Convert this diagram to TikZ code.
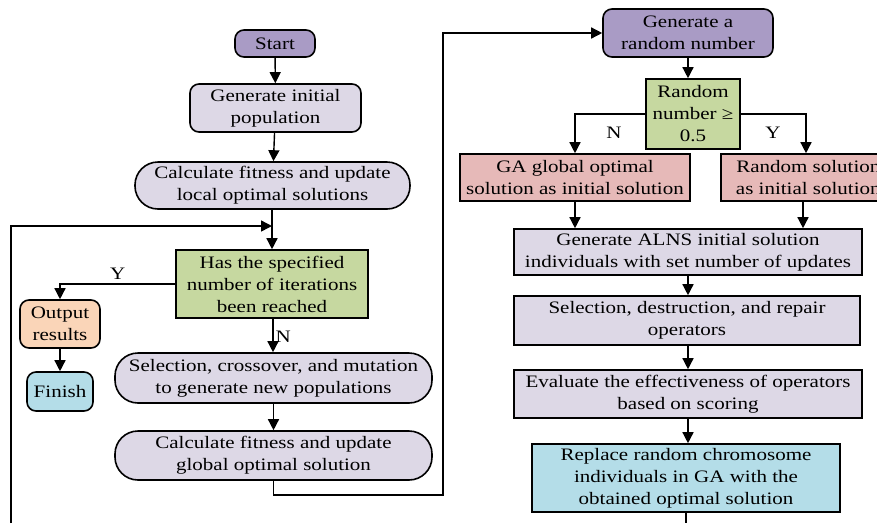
\documentclass[tikz,border=0pt]{standalone}
\usepackage{fontspec}
\setmainfont{Liberation Serif}[FakeStretch=1.2]
\usetikzlibrary{arrows.meta}
\definecolor{cpurple}{HTML}{A99BC5}
\definecolor{clav}{HTML}{DDD8E6}
\definecolor{cgreen}{HTML}{C6D8A0}
\definecolor{corange}{HTML}{FAD5B8}
\definecolor{cblue}{HTML}{B4DDE8}
\definecolor{cpink}{HTML}{E6B9B8}
\newcommand{\flowfont}{\fontsize{17.5}{22}\selectfont}
\tikzset{
  base/.style={draw, line width=1.6pt, font=\flowfont, align=center, inner sep=0pt},
  rbox/.style={base, rounded corners=9pt},
  stad/.style={base, rounded corners=23pt},
  sbox/.style={base},
  arr/.style={-{Triangle[length=11pt,width=11pt]}, line width=1.4pt},
  ln/.style={line width=1.4pt},
  lab/.style={font=\flowfont, inner sep=0pt}
}
\begin{document}
\begin{tikzpicture}[x=1pt,y=-1pt]
\useasboundingbox (0,0) rectangle (877,523);
\clip (0,0) rectangle (877,523);

% genetic algorithm column
\node[rbox, fill=cpurple, minimum width=80pt, minimum height=27pt] (start) at (275,43.5) {Start};
\node[rbox, fill=clav, minimum width=171pt, minimum height=48pt] (init) at (275.5,108) {Generate initial\\population};
\node[stad, fill=clav, minimum width=275pt, minimum height=47pt] (local) at (272.5,185.5) {Calculate fitness and update\\local optimal solutions};
\node[sbox, fill=cgreen, minimum width=192pt, minimum height=68pt] (iter) at (272,284) {Has the specified\\number of iterations\\been reached};
\node[rbox, fill=corange, minimum width=80pt, minimum height=48pt] (out) at (60,324) {Output\\results};
\node[rbox, fill=cblue, minimum width=66pt, minimum height=39pt] (fin) at (60,391.5) {Finish};
\node[stad, fill=clav, minimum width=317pt, minimum height=50pt] (sel) at (273.5,378) {Selection, crossover, and mutation\\to generate new populations};
\node[stad, fill=clav, minimum width=317pt, minimum height=49pt] (glob) at (273.5,455.5) {Calculate fitness and update\\global optimal solution};

% ALNS column
\node[rbox, fill=cpurple, minimum width=170pt, minimum height=48pt] (rand) at (688,33) {Generate a\\random number};
\node[sbox, fill=cgreen, minimum width=94pt, minimum height=70pt] (cmp) at (693,114) {Random\\number ≥\\0.5};
\node[sbox, fill=cpink, minimum width=230pt, minimum height=47pt] (gasol) at (575,177.5) {GA global optimal\\solution as initial solution};
\node[sbox, fill=cpink, minimum width=175pt, minimum height=47pt, anchor=west] (rsol) at (720,177.5) {Random solution\\as initial solution};
\node[sbox, fill=clav, minimum width=348pt, minimum height=46pt] (alns) at (688,252) {Generate ALNS initial solution\\individuals with set number of updates};
\node[sbox, fill=clav, minimum width=346pt, minimum height=49pt] (ops) at (687,320.5) {Selection, destruction, and repair\\operators};
\node[sbox, fill=clav, minimum width=348pt, minimum height=48pt] (eval) at (688,394) {Evaluate the effectiveness of operators\\based on scoring};
\node[sbox, fill=cblue, minimum width=308pt, minimum height=68pt] (repl) at (686,478) {Replace random chromosome\\individuals in GA with the\\obtained optimal solution};

% free ends of the loop lines, which run past the bottom edge
\coordinate (join) at (272,226);
\coordinate (loopin) at (11,523);
\coordinate (loopout) at (686,523);

% genetic algorithm flow
\draw[arr] (start) -- (init);
\draw[arr] (init) -- (local);
\draw[arr] (local.south -| join) -- (iter.north -| join);
\draw[arr] (loopin) |- (join);
\draw[arr] (iter.west) -| node[lab, pos=0.25, above=4pt] {Y} (out.north);
\draw[arr] (out) -- (fin);
\draw[arr] (iter.south -| 273,0) -- node[lab, right=2pt, pos=0.55] {N} (sel.north -| 273,0);
\draw[arr] (sel) -- (glob);
\draw[arr] (glob.south) -- ++(0,14) -| (443,33) -- (rand.west);

% ALNS flow
\draw[arr] (rand.south) -- (cmp.north -| rand.south);
\draw[arr] (cmp.west) -| (gasol.north);
\node[lab] (nlab) at (614,133) {N};
\draw[arr] (cmp.east) -| (rsol.north -| 806,0);
\node[lab] (ylab) at (773,133) {Y};
\draw[arr] (gasol.south) -- (alns.north -| gasol.south);
\draw[arr] (rsol.south -| 803,0) -- (alns.north -| 803,0);
\draw[arr] (alns.south -| 688,0) -- (ops.north -| 688,0);
\draw[arr] (ops.south -| 688,0) -- (eval.north -| 688,0);
\draw[arr] (eval.south -| 688,0) -- (repl.north -| 688,0);
\draw[ln] (repl.south) -- (loopout);
\end{tikzpicture}
\end{document}
